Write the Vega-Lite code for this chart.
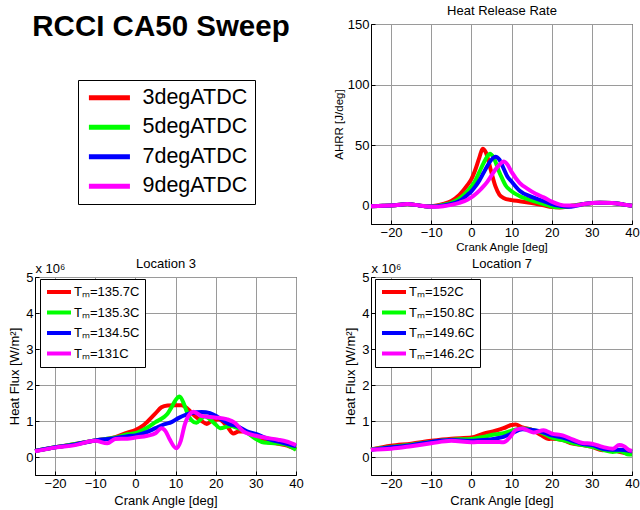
{
  "$schema": "https://vega.github.io/schema/vega-lite/v6.json",
  "background": "white",
  "padding": {"left": 8, "top": 3, "right": 0, "bottom": 0},
  "config": {
    "font": "Liberation Sans",
    "view": {"stroke": "black", "strokeWidth": 1},
    "axis": {
      "domainColor": "black", "tickColor": "black", "labelColor": "black", "titleColor": "black",
      "labelFont": "Liberation Sans", "titleFont": "Liberation Sans",
      "labelFontSize": 13, "titleFontSize": 13, "titleFontWeight": "normal",
      "gridColor": "#9a9a9a", "gridOpacity": 1, "gridWidth": 1,
      "tickSize": -4, "labelPadding": 6, "labelFlush": false, "labelOverlap": false
    }
  },
  "datasets": {
    "hrr": [
      {"case":"3degATDC","ca":-25,"v":-0.3},{"case":"3degATDC","ca":-22,"v":0},{"case":"3degATDC","ca":-19,"v":0.5},{"case":"3degATDC","ca":-16,"v":1.5},{"case":"3degATDC","ca":-13,"v":0.3},{"case":"3degATDC","ca":-11,"v":-0.5},{"case":"3degATDC","ca":-9,"v":0},{"case":"3degATDC","ca":-7,"v":1.5},{"case":"3degATDC","ca":-5,"v":4},{"case":"3degATDC","ca":-3,"v":9},{"case":"3degATDC","ca":-1,"v":17},{"case":"3degATDC","ca":0,"v":22},{"case":"3degATDC","ca":1,"v":30},{"case":"3degATDC","ca":2,"v":40},{"case":"3degATDC","ca":2.8,"v":47},{"case":"3degATDC","ca":3.6,"v":44},{"case":"3degATDC","ca":4.8,"v":30},{"case":"3degATDC","ca":6,"v":16},{"case":"3degATDC","ca":7,"v":9},{"case":"3degATDC","ca":8,"v":6.5},{"case":"3degATDC","ca":10,"v":4.7},{"case":"3degATDC","ca":12,"v":3.8},{"case":"3degATDC","ca":15,"v":2.3},{"case":"3degATDC","ca":18,"v":0.5},{"case":"3degATDC","ca":20,"v":-1},{"case":"3degATDC","ca":22,"v":-1.3},{"case":"3degATDC","ca":25,"v":0},{"case":"3degATDC","ca":28,"v":1.5},{"case":"3degATDC","ca":32,"v":2.5},{"case":"3degATDC","ca":35,"v":2.3},{"case":"3degATDC","ca":38,"v":1},{"case":"3degATDC","ca":40,"v":0},
      {"case":"5degATDC","ca":-25,"v":-0.3},{"case":"5degATDC","ca":-22,"v":0},{"case":"5degATDC","ca":-19,"v":0.5},{"case":"5degATDC","ca":-16,"v":1.5},{"case":"5degATDC","ca":-13,"v":0.3},{"case":"5degATDC","ca":-11,"v":-0.5},{"case":"5degATDC","ca":-9,"v":-0.3},{"case":"5degATDC","ca":-7,"v":0.8},{"case":"5degATDC","ca":-5,"v":2.5},{"case":"5degATDC","ca":-3,"v":6},{"case":"5degATDC","ca":-1,"v":12},{"case":"5degATDC","ca":0,"v":16},{"case":"5degATDC","ca":1,"v":21},{"case":"5degATDC","ca":2,"v":28},{"case":"5degATDC","ca":3,"v":35},{"case":"5degATDC","ca":4,"v":41},{"case":"5degATDC","ca":4.6,"v":43},{"case":"5degATDC","ca":5.5,"v":40},{"case":"5degATDC","ca":6.8,"v":29},{"case":"5degATDC","ca":7.6,"v":23},{"case":"5degATDC","ca":8.5,"v":17},{"case":"5degATDC","ca":10,"v":12},{"case":"5degATDC","ca":12,"v":8},{"case":"5degATDC","ca":14,"v":5.5},{"case":"5degATDC","ca":16,"v":3.5},{"case":"5degATDC","ca":18,"v":1.5},{"case":"5degATDC","ca":20,"v":-0.5},{"case":"5degATDC","ca":22,"v":-1.2},{"case":"5degATDC","ca":25,"v":0},{"case":"5degATDC","ca":28,"v":1.5},{"case":"5degATDC","ca":32,"v":2.5},{"case":"5degATDC","ca":35,"v":2.3},{"case":"5degATDC","ca":38,"v":1},{"case":"5degATDC","ca":40,"v":0},
      {"case":"7degATDC","ca":-25,"v":-0.3},{"case":"7degATDC","ca":-22,"v":0},{"case":"7degATDC","ca":-19,"v":0.5},{"case":"7degATDC","ca":-16,"v":1.5},{"case":"7degATDC","ca":-13,"v":0.3},{"case":"7degATDC","ca":-11,"v":-0.5},{"case":"7degATDC","ca":-9,"v":-0.5},{"case":"7degATDC","ca":-7,"v":0.3},{"case":"7degATDC","ca":-5,"v":1.5},{"case":"7degATDC","ca":-3,"v":4},{"case":"7degATDC","ca":-1,"v":9},{"case":"7degATDC","ca":0,"v":12},{"case":"7degATDC","ca":1,"v":16},{"case":"7degATDC","ca":2,"v":21},{"case":"7degATDC","ca":3,"v":27},{"case":"7degATDC","ca":4,"v":33},{"case":"7degATDC","ca":5,"v":38},{"case":"7degATDC","ca":6,"v":40.5},{"case":"7degATDC","ca":7,"v":38},{"case":"7degATDC","ca":8,"v":31},{"case":"7degATDC","ca":9,"v":24},{"case":"7degATDC","ca":10,"v":20},{"case":"7degATDC","ca":12,"v":12.5},{"case":"7degATDC","ca":15,"v":7.4},{"case":"7degATDC","ca":18,"v":3.8},{"case":"7degATDC","ca":20,"v":1.4},{"case":"7degATDC","ca":22,"v":0},{"case":"7degATDC","ca":24,"v":-0.8},{"case":"7degATDC","ca":26,"v":0},{"case":"7degATDC","ca":28,"v":1.5},{"case":"7degATDC","ca":32,"v":2.5},{"case":"7degATDC","ca":35,"v":2.3},{"case":"7degATDC","ca":38,"v":1},{"case":"7degATDC","ca":40,"v":0},
      {"case":"9degATDC","ca":-25,"v":-0.3},{"case":"9degATDC","ca":-22,"v":0},{"case":"9degATDC","ca":-19,"v":0.5},{"case":"9degATDC","ca":-16,"v":1.5},{"case":"9degATDC","ca":-13,"v":0.3},{"case":"9degATDC","ca":-11,"v":-0.5},{"case":"9degATDC","ca":-9,"v":-0.8},{"case":"9degATDC","ca":-7,"v":-0.3},{"case":"9degATDC","ca":-5,"v":0.8},{"case":"9degATDC","ca":-3,"v":2.5},{"case":"9degATDC","ca":-1,"v":5},{"case":"9degATDC","ca":0,"v":7},{"case":"9degATDC","ca":1,"v":9.5},{"case":"9degATDC","ca":2,"v":12.5},{"case":"9degATDC","ca":3,"v":16},{"case":"9degATDC","ca":4,"v":20},{"case":"9degATDC","ca":5,"v":25},{"case":"9degATDC","ca":6,"v":30},{"case":"9degATDC","ca":7,"v":34},{"case":"9degATDC","ca":8,"v":36.5},{"case":"9degATDC","ca":9,"v":34},{"case":"9degATDC","ca":10,"v":28},{"case":"9degATDC","ca":12,"v":19},{"case":"9degATDC","ca":14,"v":14},{"case":"9degATDC","ca":16,"v":10},{"case":"9degATDC","ca":18,"v":7},{"case":"9degATDC","ca":20,"v":3.5},{"case":"9degATDC","ca":22,"v":1},{"case":"9degATDC","ca":24,"v":0.2},{"case":"9degATDC","ca":26,"v":0.3},{"case":"9degATDC","ca":28,"v":1.5},{"case":"9degATDC","ca":32,"v":2.5},{"case":"9degATDC","ca":35,"v":2.3},{"case":"9degATDC","ca":38,"v":1},{"case":"9degATDC","ca":40,"v":0}
    ],
    "loc3": [
      {"case":"3degATDC","ca":-25,"v":0.17},{"case":"3degATDC","ca":-20,"v":0.27},{"case":"3degATDC","ca":-15,"v":0.36},{"case":"3degATDC","ca":-10,"v":0.46},{"case":"3degATDC","ca":-5,"v":0.55},{"case":"3degATDC","ca":-2,"v":0.68},{"case":"3degATDC","ca":0,"v":0.75},{"case":"3degATDC","ca":2,"v":0.88},{"case":"3degATDC","ca":3,"v":0.98},{"case":"3degATDC","ca":5,"v":1.21},{"case":"3degATDC","ca":6.5,"v":1.38},{"case":"3degATDC","ca":8,"v":1.43},{"case":"3degATDC","ca":10,"v":1.44},{"case":"3degATDC","ca":11.5,"v":1.44},{"case":"3degATDC","ca":13,"v":1.34},{"case":"3degATDC","ca":14.8,"v":1.14},{"case":"3degATDC","ca":16.5,"v":1.0},{"case":"3degATDC","ca":17.8,"v":0.92},{"case":"3degATDC","ca":19,"v":1.0},{"case":"3degATDC","ca":20.7,"v":1.05},{"case":"3degATDC","ca":22.8,"v":0.86},{"case":"3degATDC","ca":24.4,"v":0.65},{"case":"3degATDC","ca":25.7,"v":0.71},{"case":"3degATDC","ca":27.3,"v":0.71},{"case":"3degATDC","ca":30,"v":0.52},{"case":"3degATDC","ca":32.3,"v":0.43},{"case":"3degATDC","ca":35,"v":0.38},{"case":"3degATDC","ca":37.3,"v":0.33},{"case":"3degATDC","ca":40,"v":0.22},
      {"case":"5degATDC","ca":-25,"v":0.17},{"case":"5degATDC","ca":-20,"v":0.27},{"case":"5degATDC","ca":-15,"v":0.36},{"case":"5degATDC","ca":-10,"v":0.46},{"case":"5degATDC","ca":-5,"v":0.54},{"case":"5degATDC","ca":-2,"v":0.63},{"case":"5degATDC","ca":0,"v":0.66},{"case":"5degATDC","ca":3,"v":0.82},{"case":"5degATDC","ca":5,"v":0.97},{"case":"5degATDC","ca":7,"v":1.1},{"case":"5degATDC","ca":8,"v":1.2},{"case":"5degATDC","ca":9,"v":1.38},{"case":"5degATDC","ca":10,"v":1.58},{"case":"5degATDC","ca":11,"v":1.68},{"case":"5degATDC","ca":12,"v":1.5},{"case":"5degATDC","ca":13,"v":1.2},{"case":"5degATDC","ca":14,"v":1.02},{"case":"5degATDC","ca":15.2,"v":0.95},{"case":"5degATDC","ca":16.3,"v":1.05},{"case":"5degATDC","ca":17.3,"v":1.13},{"case":"5degATDC","ca":18.5,"v":1.05},{"case":"5degATDC","ca":20,"v":0.9},{"case":"5degATDC","ca":21.1,"v":0.8},{"case":"5degATDC","ca":23.6,"v":0.86},{"case":"5degATDC","ca":25.5,"v":0.8},{"case":"5degATDC","ca":27.3,"v":0.71},{"case":"5degATDC","ca":30,"v":0.5},{"case":"5degATDC","ca":32,"v":0.4},{"case":"5degATDC","ca":35,"v":0.38},{"case":"5degATDC","ca":37,"v":0.36},{"case":"5degATDC","ca":40,"v":0.2},
      {"case":"7degATDC","ca":-25,"v":0.17},{"case":"7degATDC","ca":-20,"v":0.27},{"case":"7degATDC","ca":-15,"v":0.35},{"case":"7degATDC","ca":-10,"v":0.46},{"case":"7degATDC","ca":-5,"v":0.52},{"case":"7degATDC","ca":-2,"v":0.58},{"case":"7degATDC","ca":0,"v":0.6},{"case":"7degATDC","ca":3,"v":0.7},{"case":"7degATDC","ca":5,"v":0.8},{"case":"7degATDC","ca":7.3,"v":0.91},{"case":"7degATDC","ca":9,"v":0.97},{"case":"7degATDC","ca":10.7,"v":1.08},{"case":"7degATDC","ca":12.5,"v":1.17},{"case":"7degATDC","ca":14,"v":1.22},{"case":"7degATDC","ca":16.5,"v":1.25},{"case":"7degATDC","ca":18.6,"v":1.22},{"case":"7degATDC","ca":20.7,"v":1.1},{"case":"7degATDC","ca":23.2,"v":0.92},{"case":"7degATDC","ca":25.3,"v":0.86},{"case":"7degATDC","ca":27.8,"v":0.71},{"case":"7degATDC","ca":30,"v":0.64},{"case":"7degATDC","ca":33.2,"v":0.5},{"case":"7degATDC","ca":36.5,"v":0.4},{"case":"7degATDC","ca":40,"v":0.3},
      {"case":"9degATDC","ca":-25,"v":0.16},{"case":"9degATDC","ca":-20,"v":0.26},{"case":"9degATDC","ca":-15,"v":0.33},{"case":"9degATDC","ca":-10,"v":0.45},{"case":"9degATDC","ca":-7,"v":0.38},{"case":"9degATDC","ca":-5,"v":0.5},{"case":"9degATDC","ca":-2,"v":0.51},{"case":"9degATDC","ca":0,"v":0.54},{"case":"9degATDC","ca":3,"v":0.59},{"case":"9degATDC","ca":5,"v":0.66},{"case":"9degATDC","ca":6.5,"v":0.8},{"case":"9degATDC","ca":7.5,"v":0.72},{"case":"9degATDC","ca":8.5,"v":0.5},{"case":"9degATDC","ca":10.2,"v":0.24},{"case":"9degATDC","ca":11.3,"v":0.45},{"case":"9degATDC","ca":12.3,"v":0.9},{"case":"9degATDC","ca":13.5,"v":1.19},{"case":"9degATDC","ca":14.5,"v":1.26},{"case":"9degATDC","ca":16.5,"v":1.14},{"case":"9degATDC","ca":19.8,"v":1.1},{"case":"9degATDC","ca":22.7,"v":1.05},{"case":"9degATDC","ca":24.8,"v":0.95},{"case":"9degATDC","ca":26.8,"v":0.72},{"case":"9degATDC","ca":28.9,"v":0.62},{"case":"9degATDC","ca":32.2,"v":0.54},{"case":"9degATDC","ca":35.5,"v":0.48},{"case":"9degATDC","ca":37.6,"v":0.43},{"case":"9degATDC","ca":40,"v":0.33}
    ],
    "loc7": [
      {"case":"3degATDC","ca":-25,"v":0.21},{"case":"3degATDC","ca":-20,"v":0.31},{"case":"3degATDC","ca":-15,"v":0.37},{"case":"3degATDC","ca":-10,"v":0.45},{"case":"3degATDC","ca":-5,"v":0.51},{"case":"3degATDC","ca":0,"v":0.54},{"case":"3degATDC","ca":3,"v":0.65},{"case":"3degATDC","ca":6,"v":0.73},{"case":"3degATDC","ca":8,"v":0.8},{"case":"3degATDC","ca":10,"v":0.89},{"case":"3degATDC","ca":11,"v":0.9},{"case":"3degATDC","ca":12.7,"v":0.82},{"case":"3degATDC","ca":15.2,"v":0.75},{"case":"3degATDC","ca":17.2,"v":0.62},{"case":"3degATDC","ca":19.3,"v":0.5},{"case":"3degATDC","ca":20,"v":0.51},{"case":"3degATDC","ca":22.7,"v":0.47},{"case":"3degATDC","ca":25.2,"v":0.37},{"case":"3degATDC","ca":27.7,"v":0.33},{"case":"3degATDC","ca":30,"v":0.28},{"case":"3degATDC","ca":32.7,"v":0.19},{"case":"3degATDC","ca":35.2,"v":0.21},{"case":"3degATDC","ca":36.8,"v":0.14},{"case":"3degATDC","ca":39.3,"v":0.09},{"case":"3degATDC","ca":40,"v":0.08},
      {"case":"5degATDC","ca":-25,"v":0.21},{"case":"5degATDC","ca":-20,"v":0.28},{"case":"5degATDC","ca":-15,"v":0.34},{"case":"5degATDC","ca":-10,"v":0.42},{"case":"5degATDC","ca":-5,"v":0.48},{"case":"5degATDC","ca":0,"v":0.5},{"case":"5degATDC","ca":3,"v":0.56},{"case":"5degATDC","ca":6,"v":0.63},{"case":"5degATDC","ca":8,"v":0.66},{"case":"5degATDC","ca":10,"v":0.73},{"case":"5degATDC","ca":12.7,"v":0.79},{"case":"5degATDC","ca":15.2,"v":0.75},{"case":"5degATDC","ca":17.5,"v":0.68},{"case":"5degATDC","ca":20,"v":0.54},{"case":"5degATDC","ca":22.7,"v":0.47},{"case":"5degATDC","ca":25.2,"v":0.39},{"case":"5degATDC","ca":27.7,"v":0.33},{"case":"5degATDC","ca":30,"v":0.28},{"case":"5degATDC","ca":32.7,"v":0.2},{"case":"5degATDC","ca":35.2,"v":0.14},{"case":"5degATDC","ca":37,"v":0.16},{"case":"5degATDC","ca":39.3,"v":0.07},{"case":"5degATDC","ca":40,"v":0.07},
      {"case":"7degATDC","ca":-25,"v":0.2},{"case":"7degATDC","ca":-20,"v":0.27},{"case":"7degATDC","ca":-15,"v":0.33},{"case":"7degATDC","ca":-10,"v":0.42},{"case":"7degATDC","ca":-5,"v":0.47},{"case":"7degATDC","ca":0,"v":0.45},{"case":"7degATDC","ca":3,"v":0.47},{"case":"7degATDC","ca":6,"v":0.51},{"case":"7degATDC","ca":8,"v":0.56},{"case":"7degATDC","ca":10,"v":0.65},{"case":"7degATDC","ca":12.7,"v":0.77},{"case":"7degATDC","ca":15.2,"v":0.75},{"case":"7degATDC","ca":17.5,"v":0.7},{"case":"7degATDC","ca":20,"v":0.6},{"case":"7degATDC","ca":22.7,"v":0.54},{"case":"7degATDC","ca":25.2,"v":0.45},{"case":"7degATDC","ca":27.7,"v":0.36},{"case":"7degATDC","ca":30,"v":0.33},{"case":"7degATDC","ca":32.7,"v":0.23},{"case":"7degATDC","ca":35.2,"v":0.2},{"case":"7degATDC","ca":37,"v":0.2},{"case":"7degATDC","ca":39.3,"v":0.17},{"case":"7degATDC","ca":40,"v":0.15},
      {"case":"9degATDC","ca":-25,"v":0.2},{"case":"9degATDC","ca":-20,"v":0.23},{"case":"9degATDC","ca":-15,"v":0.3},{"case":"9degATDC","ca":-10,"v":0.38},{"case":"9degATDC","ca":-5,"v":0.45},{"case":"9degATDC","ca":0,"v":0.41},{"case":"9degATDC","ca":3,"v":0.42},{"case":"9degATDC","ca":6,"v":0.42},{"case":"9degATDC","ca":8,"v":0.41},{"case":"9degATDC","ca":10,"v":0.6},{"case":"9degATDC","ca":11,"v":0.75},{"case":"9degATDC","ca":12.7,"v":0.79},{"case":"9degATDC","ca":14,"v":0.74},{"case":"9degATDC","ca":15.5,"v":0.68},{"case":"9degATDC","ca":18,"v":0.74},{"case":"9degATDC","ca":20,"v":0.65},{"case":"9degATDC","ca":22.7,"v":0.6},{"case":"9degATDC","ca":25.2,"v":0.49},{"case":"9degATDC","ca":27.7,"v":0.39},{"case":"9degATDC","ca":30,"v":0.37},{"case":"9degATDC","ca":32.7,"v":0.28},{"case":"9degATDC","ca":35.2,"v":0.23},{"case":"9degATDC","ca":36.8,"v":0.33},{"case":"9degATDC","ca":38,"v":0.3},{"case":"9degATDC","ca":39.3,"v":0.19},{"case":"9degATDC","ca":40,"v":0.17}
    ]
  },
  "columns": 2,
  "spacing": {"row": 53, "column": 75},
  "bounds": "flush",
  "resolve": {"scale": {"color": "independent"}, "legend": {"color": "independent"}},
  "concat": [
    {
      "width": 261, "height": 200,
      "view": {"stroke": null},
      "data": {"values": [{}]},
      "mark": {"type": "point", "opacity": 0},
      "encoding": {
        "x": {"datum": 0.5, "type": "quantitative", "scale": {"domain": [0, 1]},
              "axis": {"orient": "top", "title": "RCCI CA50 Sweep", "titleX": 125.5, "titleY": 11, "titleAlign": "center", "titleBaseline": "alphabetic",
                       "titleFontSize": 29.5, "titleFontWeight": "bold", "labels": false, "ticks": false, "domain": false, "grid": false}}
      }
    },
    {
      "width": 261, "height": 200,
      "layer": [
        {
          "data": {"name": "hrr"},
          "mark": {"type": "line", "strokeWidth": 4, "interpolate": "monotone"},
          "encoding": {
            "x": {"field": "ca", "type": "quantitative", "scale": {"domain": [-25, 40], "nice": false, "zero": false},
                  "axis": {"title": "Crank Angle [deg]", "titleFontSize": 11.5, "titlePadding": 2, "values": [-20, -10, 0, 10, 20, 30, 40]}},
            "y": {"field": "v", "type": "quantitative", "scale": {"domain": [-15, 150], "nice": false, "zero": false},
                  "axis": {"title": "AHRR [J/deg]", "titleFontSize": 11.5, "titlePadding": 3, "values": [0, 50, 100, 150]}},
            "color": {"field": "case", "type": "nominal",
                      "scale": {"domain": ["3degATDC", "5degATDC", "7degATDC", "9degATDC"], "range": ["#ff0000", "#00ff00", "#0000ff", "#ff00ff"]},
                      "legend": {"orient": "none", "legendX": -293, "legendY": 56, "title": null,
                                 "strokeColor": "black", "fillColor": "white", "padding": 7,
                                 "symbolType": "M-1,0H5", "symbolSize": 187, "symbolStrokeWidth": 5,
                                 "labelFontSize": 21.5, "labelFont": "Liberation Sans", "labelColor": "black",
                                 "labelOffset": 36, "rowPadding": 6.5}}
          }
        },
        {
          "data": {"values": [{}]},
          "mark": {"type": "point", "opacity": 0},
          "encoding": {
            "x": {"datum": 0, "type": "quantitative",
                  "axis": {"orient": "top", "title": "Heat Release Rate", "titleX": 130.5, "titleY": -10, "titleAlign": "center", "titleBaseline": "alphabetic",
                           "labels": false, "ticks": false, "domain": false, "grid": false}}
          }
        }
      ],
      "resolve": {"axis": {"x": "independent"}}
    },
    {
      "width": 261, "height": 198,
      "layer": [
        {
          "data": {"name": "loc3"},
          "mark": {"type": "line", "strokeWidth": 4, "interpolate": "monotone"},
          "encoding": {
            "x": {"field": "ca", "type": "quantitative", "scale": {"domain": [-25, 40], "nice": false, "zero": false},
                  "axis": {"title": "Crank Angle [deg]", "titlePadding": 4, "values": [-20, -10, 0, 10, 20, 30, 40]}},
            "y": {"field": "v", "type": "quantitative", "scale": {"domain": [-0.5, 5], "nice": false, "zero": false},
                  "axis": {"title": "Heat Flux [W/m²]", "titlePadding": 4, "values": [0, 1, 2, 3, 4, 5]}},
            "color": {"field": "case", "type": "nominal",
                      "scale": {"domain": ["3degATDC", "5degATDC", "7degATDC", "9degATDC"], "range": ["#ff0000", "#00ff00", "#0000ff", "#ff00ff"]},
                      "legend": {"orient": "none", "legendX": 5, "legendY": 2, "title": null,
                                 "strokeColor": "black", "fillColor": "white", "padding": 5,
                                 "symbolType": "M-1,0H3", "symbolSize": 144, "symbolStrokeWidth": 4,
                                 "labelFontSize": 13, "labelFont": "Liberation Sans", "labelColor": "black",
                                 "labelOffset": 13, "rowPadding": 4.5,
                                 "labelExpr": "{'3degATDC':'Tₘ=135.7C','5degATDC':'Tₘ=135.3C','7degATDC':'Tₘ=134.5C','9degATDC':'Tₘ=131C'}[datum.label]"}}
          }
        },
        {
          "data": {"values": [{}]},
          "mark": {"type": "point", "opacity": 0},
          "encoding": {
            "x": {"datum": 0, "type": "quantitative",
                  "axis": {"orient": "top", "title": "Location 3", "titleX": 130.5, "titleY": -10, "titleAlign": "center", "titleBaseline": "alphabetic",
                           "labels": false, "ticks": false, "domain": false, "grid": false}},
            "y": {"datum": 0, "type": "quantitative",
                  "axis": {"orient": "left", "title": "x 10⁶", "titleAngle": 0, "titleX": 0, "titleY": -5, "titleAlign": "left", "titleBaseline": "alphabetic",
                           "labels": false, "ticks": false, "domain": false, "grid": false}}
          }
        }
      ],
      "resolve": {"axis": {"x": "independent", "y": "independent"}}
    },
    {
      "width": 261, "height": 198,
      "layer": [
        {
          "data": {"name": "loc7"},
          "mark": {"type": "line", "strokeWidth": 4, "interpolate": "monotone"},
          "encoding": {
            "x": {"field": "ca", "type": "quantitative", "scale": {"domain": [-25, 40], "nice": false, "zero": false},
                  "axis": {"title": "Crank Angle [deg]", "titlePadding": 4, "values": [-20, -10, 0, 10, 20, 30, 40]}},
            "y": {"field": "v", "type": "quantitative", "scale": {"domain": [-0.5, 5], "nice": false, "zero": false},
                  "axis": {"title": "Heat Flux [W/m²]", "titlePadding": 4, "values": [0, 1, 2, 3, 4, 5]}},
            "color": {"field": "case", "type": "nominal",
                      "scale": {"domain": ["3degATDC", "5degATDC", "7degATDC", "9degATDC"], "range": ["#ff0000", "#00ff00", "#0000ff", "#ff00ff"]},
                      "legend": {"orient": "none", "legendX": 4, "legendY": 2, "title": null,
                                 "strokeColor": "black", "fillColor": "white", "padding": 5,
                                 "symbolType": "M-1,0H3", "symbolSize": 144, "symbolStrokeWidth": 4,
                                 "labelFontSize": 13, "labelFont": "Liberation Sans", "labelColor": "black",
                                 "labelOffset": 13, "rowPadding": 4.5,
                                 "labelExpr": "{'3degATDC':'Tₘ=152C','5degATDC':'Tₘ=150.8C','7degATDC':'Tₘ=149.6C','9degATDC':'Tₘ=146.2C'}[datum.label]"}}
          }
        },
        {
          "data": {"values": [{}]},
          "mark": {"type": "point", "opacity": 0},
          "encoding": {
            "x": {"datum": 0, "type": "quantitative",
                  "axis": {"orient": "top", "title": "Location 7", "titleX": 130.5, "titleY": -10, "titleAlign": "center", "titleBaseline": "alphabetic",
                           "labels": false, "ticks": false, "domain": false, "grid": false}},
            "y": {"datum": 0, "type": "quantitative",
                  "axis": {"orient": "left", "title": "x 10⁶", "titleAngle": 0, "titleX": 0, "titleY": -5, "titleAlign": "left", "titleBaseline": "alphabetic",
                           "labels": false, "ticks": false, "domain": false, "grid": false}}
          }
        }
      ],
      "resolve": {"axis": {"x": "independent", "y": "independent"}}
    }
  ]
}
